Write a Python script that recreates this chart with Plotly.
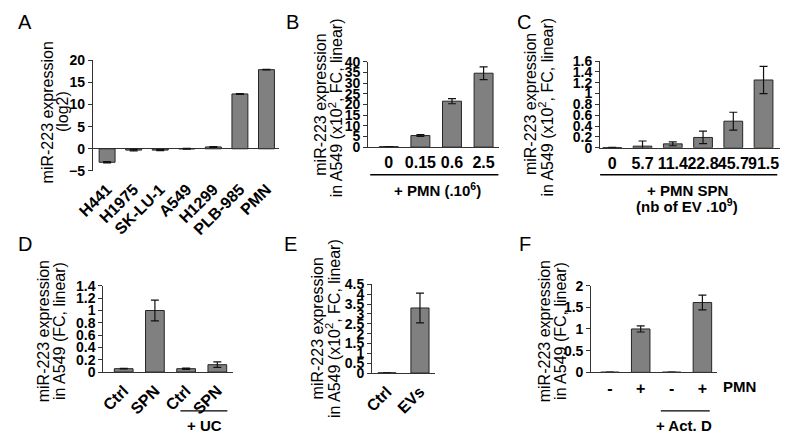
import plotly.graph_objects as go

W, H = 789, 443
FONT = "Liberation Sans, Arial, Helvetica, sans-serif"

# ---------------- data ----------------
a_labels = ["H441", "H1975", "SK-LU-1", "A549", "H1299", "PLB-985", "PMN"]
a_values = [-3.05, -0.3, -0.3, 0.0, 0.42, 12.4, 17.9]
a_errors = [0.15, 0.15, 0.1, 0.1, 0.1, 0.08, 0.08]

b_labels = ["0", "0.15", "0.6", "2.5"]
b_values = [0.2, 5.4, 21.5, 34.6]
b_errors = [0.05, 0.4, 1.2, 3.0]

c_labels = ["0", "5.7", "11.4", "22.8", "45.7", "91.5"]
c_values = [0.005, 0.03, 0.072, 0.19, 0.49, 1.25]
c_errors = [0.003, 0.095, 0.035, 0.115, 0.165, 0.25]

d_labels = ["Ctrl", "SPN", "Ctrl", "SPN"]
d_values = [0.055, 1.0, 0.055, 0.12]
d_errors = [0.005, 0.17, 0.01, 0.045]

e_labels = ["Ctrl", "EVs"]
e_values = [0.01, 3.3]
e_errors = [0.0, 0.75]

f_labels = ["-", "+", "-", "+"]
f_values = [0.005, 1.0, 0.005, 1.61]
f_errors = [0.0, 0.07, 0.0, 0.17]

# ---------------- layout helpers ----------------
def X(px):
    return px / W

def Y(py):
    return 1 - py / H

BAR_FILL = "#808080"
BAR_LINE = "#262626"
AX = "#333333"

panels = [
    # name, labels, values, errors, xdom(px), ydom(px top,bottom), yrange, dtick, xrange, rotated, barwidth
    ("a", a_labels, a_values, a_errors, (77.7, 268), (54.3, 169), [-5, 20], 5, [-0.53, 6.48], True, 0.6),
    ("b", b_labels, b_values, b_errors, (359, 493), (55.7, 144.3), [0, 40], 5, [-0.65, 3.5], False, 0.6),
    ("c", c_labels, c_values, c_errors, (596, 780), (55, 145), [0, 1.6], 0.2, [-0.4, 5.55], False, 0.62),
    ("d", d_labels, d_values, d_errors, (88.3, 220.7), (288.3, 377.7), [0, 1.4], 0.2, [-0.65, 3.5], True, 0.6),
    ("e", e_labels, e_values, e_errors, (363, 427), (286.7, 378.7), [0, 4.5], 0.5, [-0.45, 1.45], True, 0.55),
    ("f", f_labels, f_values, f_errors, (587, 715), (288, 378), [0, 2], 0.5, [-0.6, 3.46], False, 0.6),
]

fig = go.Figure()
layout = dict(
    width=W, height=H,
    margin=dict(l=0, r=0, t=0, b=0),
    paper_bgcolor="white", plot_bgcolor="white",
    showlegend=False,
    font=dict(family=FONT, color="black", size=14),
    annotations=[], shapes=[],
)

for i, (name, labels, vals, errs, xd, yd, yr, dt, xr, rot, bw) in enumerate(panels):
    n = i + 1
    xa = "x" if n == 1 else f"x{n}"
    ya = "y" if n == 1 else f"y{n}"
    pos = list(range(len(labels)))
    fig.add_trace(go.Bar(
        x=pos, y=vals, width=bw,
        marker=dict(color=BAR_FILL, line=dict(color=BAR_LINE, width=1)),
        error_y=dict(type="data", array=errs, color="#111111", thickness=1.2, width=4),
        xaxis=xa, yaxis=ya,
    ))
    xkey = "xaxis" if n == 1 else f"xaxis{n}"
    ykey = "yaxis" if n == 1 else f"yaxis{n}"
    xa_dict = dict(
        domain=[X(xd[0]), X(xd[1])], range=xr, anchor=ya,
        tickmode="array", tickvals=pos, ticktext=["<b>" + t + "</b>" for t in labels],
        showline=(name != "a"), linecolor=AX, linewidth=1.3,
        showgrid=False, zeroline=False, fixedrange=True,
    )
    if rot:
        xa_dict.update(
            tickangle=-45, ticks="outside", ticklen=2, tickcolor="rgba(0,0,0,0)",
            tickfont=dict(family=FONT, size=16, color="black"),
        )
    else:
        xa_dict.update(
            tickangle=0, ticks="outside", ticklen=1, tickcolor="rgba(0,0,0,0)",
            tickfont=dict(family=FONT, size=16, color="black"),
        )
    layout[xkey] = xa_dict
    layout[ykey] = dict(
        domain=[Y(yd[1]), Y(yd[0])], range=yr, anchor=xa,
        dtick=dt, tick0=0, showline=True, linecolor=AX, linewidth=1.3,
        ticks="outside", ticklen=4, tickcolor=AX, tickwidth=1,
        tickprefix="<b>", ticksuffix="</b>",
        tickfont=dict(family=FONT, size=14, color="black"),
        showgrid=False, zeroline=(name == "a"), zerolinecolor=AX, zerolinewidth=1.3,
        fixedrange=True,
    )

def ann(text, px, py, size, angle=0, bold=False, xanchor="center"):
    layout["annotations"].append(dict(
        text=("<b>" + text + "</b>") if bold else text,
        x=X(px), y=Y(py), xref="paper", yref="paper",
        showarrow=False, textangle=angle, xanchor=xanchor, yanchor="middle",
        font=dict(family=FONT, size=size, color="black"),
    ))

def hline(x0, x1, py):
    layout["shapes"].append(dict(
        type="line", xref="paper", yref="paper",
        x0=X(x0), x1=X(x1), y0=Y(py), y1=Y(py),
        line=dict(color="black", width=1.3),
    ))

for letter, px, py in [("A", 8, 15), ("B", 282, 15), ("C", 518, 15),
                       ("D", 8, 245), ("E", 280, 245), ("F", 519, 245)]:
    ann(letter, px, py, 20)

TS = 16
ann("miR-223 expression", 31, 108, TS, -90)
ann("(log2)", 46, 108, TS, -90)
ann("miR-223 expression", 310, 100, TS, -90)
ann("in A549 (x10<sup>2</sup>, FC, linear)", 326, 103, TS, -90)
ann("miR-223 expression", 525, 100, TS, -90)
ann("in A549 (x10<sup>2</sup>, FC, linear)", 541, 103, TS, -90)
ann("miR-223 expression", 28, 335, TS, -90)
ann("in A549 (FC, linear)", 44, 335, TS, -90)
ann("miR-223 expression", 307, 332, TS, -90)
ann("in A549 (x10<sup>2</sup>, FC, linear)", 323, 333, TS, -90)
ann("miR-223 expression", 540, 335, TS, -90)
ann("in A549 (FC, linear)", 556, 335, TS, -90)

hline(361, 492, 173)
ann("+ PMN (.10<sup>6</sup>)", 430, 188, 15, bold=True)
hline(596, 777, 173)
ann("+ PMN SPN", 685, 189, 15, bold=True)
ann("(nb of EV .10<sup>9</sup>)", 685, 205, 15, bold=True)
hline(167, 215, 418)
ann("+ UC", 192, 433, 15, bold=True)
hline(658, 708, 418)
ann("+ Act. D", 682, 433, 15, bold=True)
ann("PMN", 738, 393, 15, bold=True)

fig.update_layout(**layout)
fig.write_html("out.html", config={"displayModeBar": False},
               post_script="document.body.style.margin='0';document.body.style.overflow='hidden';")
